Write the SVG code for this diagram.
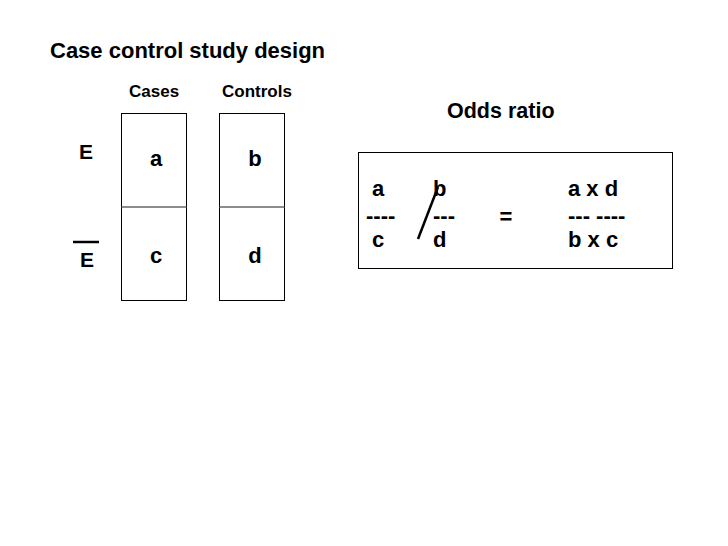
<svg xmlns="http://www.w3.org/2000/svg" width="728" height="546" viewBox="0 0 728 546">
<style>
text{font-family:"Liberation Sans",Arial,sans-serif;font-weight:bold;fill:#000}
.t{font-size:22px}
.h{font-size:17px}
.o{font-size:21.5px}
.l{font-size:22px}
.box{fill:#fff;stroke:#000;stroke-width:1}
.div{stroke:#666;stroke-width:1.5}
</style>
<rect width="728" height="546" fill="#fff"/>
<text class="t" x="50" y="58">Case control study design</text>
<text class="h" x="129" y="97">Cases</text>
<text class="h" x="222" y="97">Controls</text>
<g id="rowE">
<text class="l" x="79" y="159" style="font-size:21px">E</text>
</g>
<g id="rowNotE">
<line x1="73" y1="242" x2="99" y2="242" stroke="#000" stroke-width="2.5"/>
<text class="l" x="80" y="267" style="font-size:21px">E</text>
</g>
<g id="cases">
<rect class="box" x="121.5" y="113.5" width="65" height="187"/>
<line class="div" x1="121.5" y1="207" x2="186.5" y2="207"/>
<text class="l" x="156" y="166" text-anchor="middle">a</text>
<text class="l" x="156" y="263" text-anchor="middle">c</text>
</g>
<g id="controls">
<rect class="box" x="219.5" y="113.5" width="65" height="187"/>
<line class="div" x1="219.5" y1="207" x2="284.5" y2="207"/>
<text class="l" x="255" y="166" text-anchor="middle">b</text>
<text class="l" x="255" y="263" text-anchor="middle">d</text>
</g>
<text class="o" x="447" y="118">Odds ratio</text>
<g id="oddsbox">
<rect class="box" x="358.5" y="152.5" width="314" height="116"/>
<text class="l" x="372" y="196">a</text>
<text class="l" x="366" y="223">----</text>
<text class="l" x="372" y="247">c</text>
<text class="l" x="433" y="196">b</text>
<text class="l" x="433" y="223">---</text>
<text class="l" x="433" y="247">d</text>
<text class="l" x="506" y="224" text-anchor="middle">=</text>
<text class="l" x="568" y="196">a x d</text>
<text class="l" x="568" y="223">--- ----</text>
<text class="l" x="568" y="247">b x c</text>
</g>
<g id="connectors">
<line x1="438" y1="187" x2="418" y2="239" stroke="#000" stroke-width="2.5"/>
</g>
</svg>
